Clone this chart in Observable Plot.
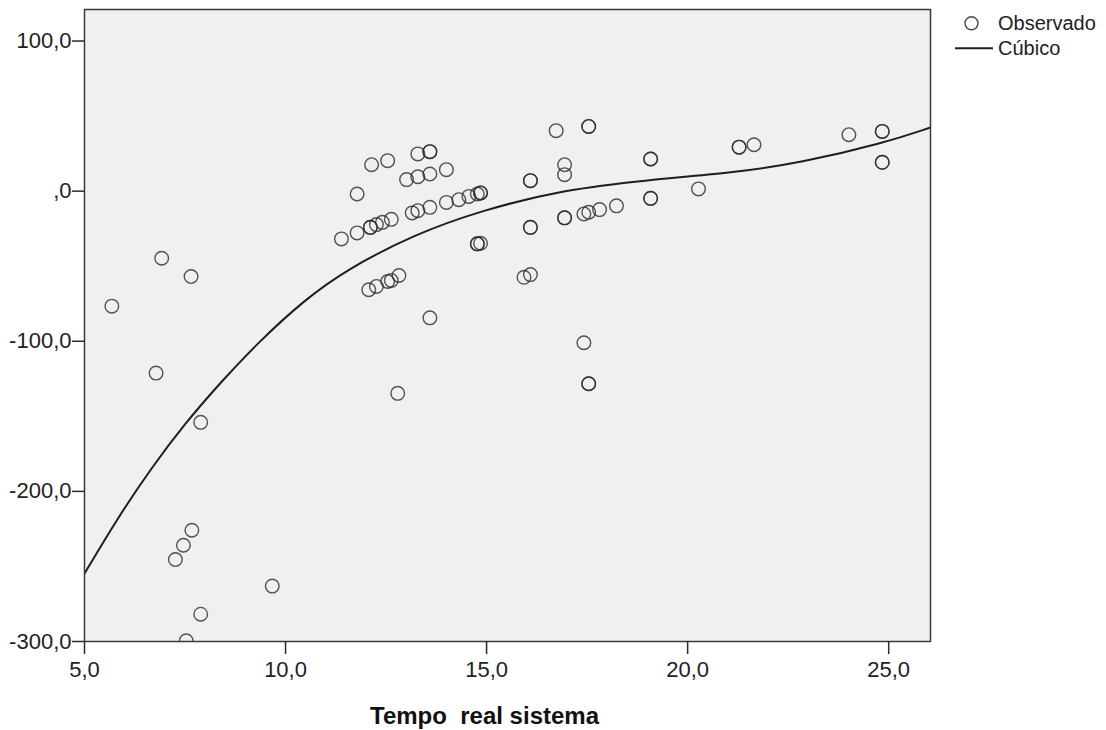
<!DOCTYPE html>
<html>
<head>
<meta charset="utf-8">
<script src="https://cdn.jsdelivr.net/npm/d3@7"></script>
<script src="https://cdn.jsdelivr.net/npm/@observablehq/plot@0.6"></script>
<style>
  html, body { margin: 0; padding: 0; background: #ffffff; }
  #wrap { position: relative; width: 1106px; height: 730px; font-family: "Liberation Sans", Arial, sans-serif; }
  #wrap svg text { white-space: pre; }
  #legend { position: absolute; left: 0; top: 0; width: 1106px; height: 730px; pointer-events: none; }
  .lg-item { position: absolute; font-size: 20px; color: #222; line-height: 20px; }
</style>
</head>
<body>
<div id="wrap">
  <div id="chart"></div>
  <div id="legend"></div>
</div>
<script>
// Observed points (x = Tempo real sistema, y = response)
const obsX = [
  5.68, 6.92, 7.65, 6.78, 7.89, 7.67, 7.46, 7.26, 9.67, 7.89, 7.53,
  11.39, 11.78, 11.78, 12.11, 12.11, 12.26, 12.41, 12.63, 12.14, 12.54,
  13.29, 13.59, 13.59, 13.01, 13.29, 13.59, 14.00, 13.15, 13.29, 13.59,
  14.00, 14.31, 14.56, 14.77, 14.85, 14.85, 14.77, 14.77, 14.85,
  12.07, 12.26, 12.54, 12.63, 12.82, 13.59, 12.79,
  15.93, 16.09, 16.09, 16.09, 16.09, 16.09, 16.73, 16.94, 16.94, 16.94, 16.94,
  17.42, 17.54, 17.81, 18.23, 17.54, 17.54, 17.42, 17.54, 17.54,
  19.08, 19.08, 19.08, 19.08, 20.27, 21.28, 21.28, 21.65, 24.01,
  24.84, 24.84, 24.84, 24.84
];
const obsY = [
  -76.6, -44.7, -56.9, -121.2, -154.0, -225.9, -235.9, -245.4, -263.1, -281.8, -299.5,
  -31.8, -27.8, -1.9, -24.1, -24.1, -22.3, -20.8, -18.8, 17.6, 20.3,
  24.8, 26.3, 26.3, 7.7, 9.6, 11.4, 14.3, -14.5, -13.0, -10.8,
  -7.5, -5.7, -3.5, -1.9, -1.2, -1.2, -35.1, -35.1, -34.7,
  -65.7, -63.5, -60.2, -59.5, -56.2, -84.4, -134.7,
  -57.4, -55.6, 7.0, 7.0, -24.1, -24.1, 40.3, 17.6, 11.0, -17.8, -17.8,
  -15.2, -14.1, -12.3, -9.8, 43.1, 43.1, -101.0, -128.3, -128.3,
  21.4, 21.4, -4.8, -4.8, 1.5, 29.3, 29.3, 30.9, 37.6,
  39.8, 39.8, 19.2, 19.2
];

// Cubic fit curve
const fitX = [5.0, 5.83, 6.66, 7.49, 8.40, 9.31, 10.47, 11.53, 13.19, 14.85, 16.92, 19.00, 21.07, 22.81, 24.88, 26.04];
const fitY = [-254.7, -217.5, -184.5, -155.0, -127.0, -101.0, -72.4, -52.0, -29.0, -13.0, 1.0, 7.5, 12.0, 18.8, 32.0, 42.4];

const xTicks = [5, 10, 15, 20, 25];
const xTickLabels = ["5,0", "10,0", "15,0", "20,0", "25,0"];
const yTicks = [-300, -200, -100, 0, 100];
const yTickLabels = ["-300,0", "-200,0", "-100,0", ",0", "100,0"];
const xLabel = ["Tempo  real sistema"];
const legendLabels = ["Observado", "Cúbico"];

const observed = obsX.map((x, i) => ({x, y: obsY[i]}));
const fitted = fitX.map((x, i) => ({x, y: fitY[i]}));

const chart = Plot.plot({
  width: 1106,
  height: 730,
  marginLeft: 84,
  marginRight: 176,
  marginTop: 9,
  marginBottom: 89,
  style: {fontFamily: "'Liberation Sans', Arial, sans-serif", fontSize: "22px", color: "#222", background: "transparent"},
  x: {domain: [5, 26.04]},
  y: {domain: [-300, 121]},
  marks: [
    Plot.frame({fill: "#f0f0f0", stroke: "none"}),
    Plot.line(fitted, {x: "x", y: "y", curve: "basis", stroke: "#1e1e1e", strokeWidth: 2, clip: "frame"}),
    Plot.dot(observed, {x: "x", y: "y", r: 6.8, fill: "none", stroke: "#2a2a2a", strokeWidth: 1.4, strokeOpacity: 0.8, clip: "frame"}),
    Plot.frame({stroke: "#3a3a3a", strokeWidth: 1.5}),
    Plot.axisX({ticks: xTicks, tickFormat: d => xTickLabels[xTicks.indexOf(d)], tickSize: 13, tickPadding: 7, stroke: "#2a2a2a", strokeWidth: 1.5, fill: "#222", label: null, fontSize: 22}),
    Plot.axisY({ticks: yTicks, tickFormat: d => yTickLabels[yTicks.indexOf(d)], tickSize: 12, tickPadding: 1, stroke: "#2a2a2a", strokeWidth: 1.5, fill: "#222", label: null, fontSize: 22}),
    Plot.text(xLabel, {frameAnchor: "bottom", text: d => d, dy: 75, dx: -23, fontSize: 24, fontWeight: "bold", fill: "#111", lineAnchor: "middle"})
  ]
});
document.getElementById("chart").appendChild(chart);

// Legend (to the right of the plot)
const legend = document.getElementById("legend");
legend.innerHTML = `
  <svg width="1106" height="730" style="position:absolute;left:0;top:0">
    <circle cx="971.5" cy="23.3" r="6.5" fill="none" stroke="#2a2a2a" stroke-width="1.4" stroke-opacity="0.85"></circle>
    <line x1="955" x2="993" y1="48.3" y2="48.3" stroke="#1e1e1e" stroke-width="2"></line>
  </svg>
  <div class="lg-item" style="left:998px;top:13px">${legendLabels[0]}</div>
  <div class="lg-item" style="left:998px;top:38px">${legendLabels[1]}</div>
`;
</script>
</body>
</html>
